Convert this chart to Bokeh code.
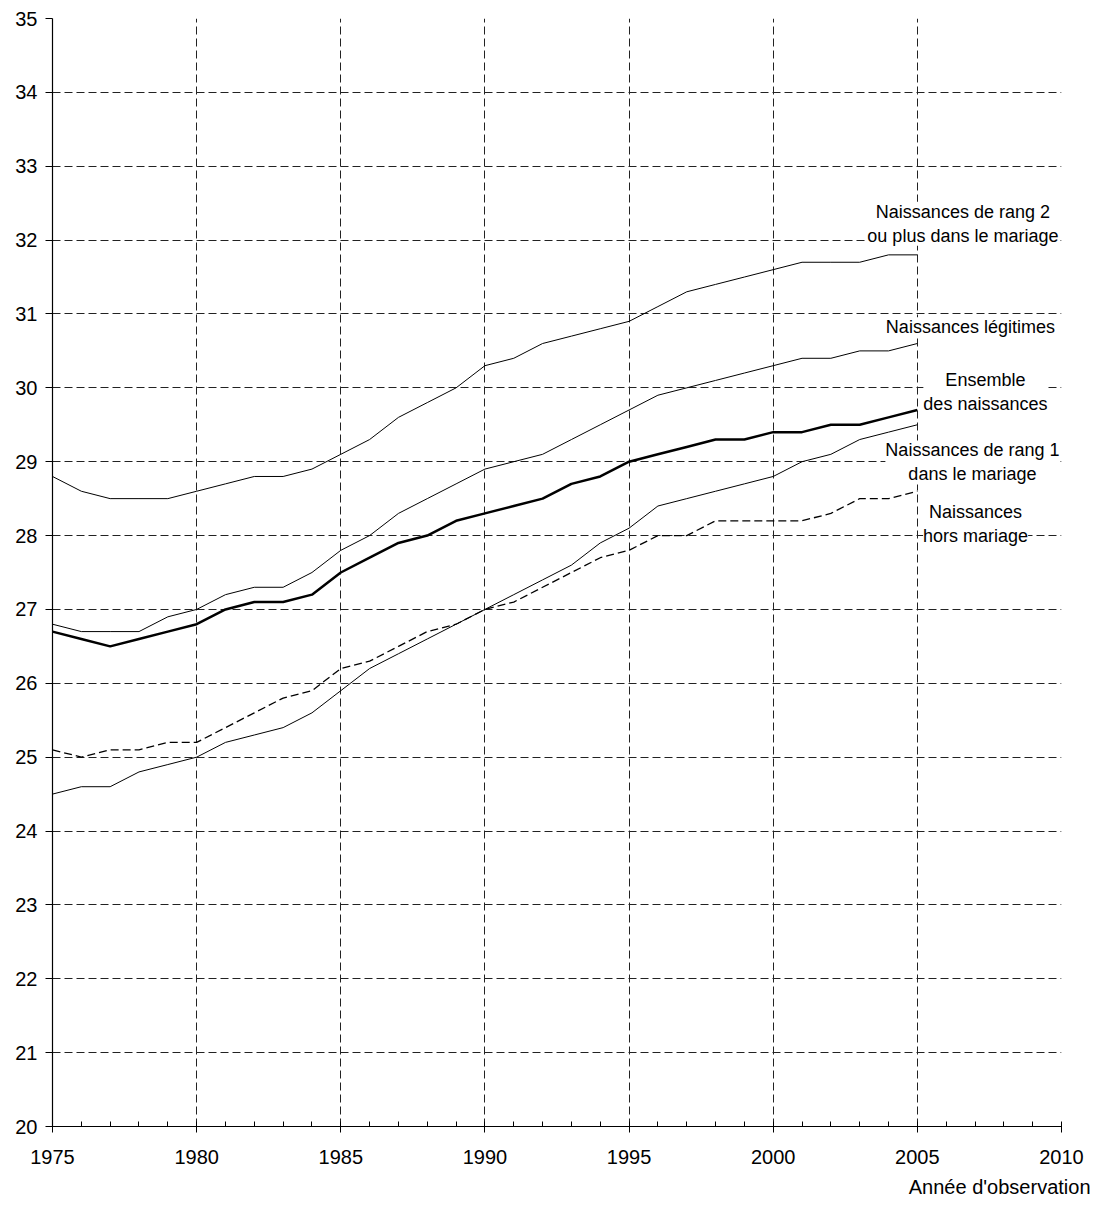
from bokeh.plotting import figure
from bokeh.models import Label, Range1d, FixedTicker, Title
from bokeh.embed import file_html
from bokeh.resources import INLINE

years = list(range(1975, 2006))

rang2_plus = [28.8, 28.6, 28.5, 28.5, 28.5, 28.6, 28.7, 28.8, 28.8, 28.9,
              29.1, 29.3, 29.6, 29.8, 30.0, 30.3, 30.4, 30.6, 30.7, 30.8,
              30.9, 31.1, 31.3, 31.4, 31.5, 31.6, 31.7, 31.7, 31.7, 31.8, 31.8]
legitimes = [26.8, 26.7, 26.7, 26.7, 26.9, 27.0, 27.2, 27.3, 27.3, 27.5,
             27.8, 28.0, 28.3, 28.5, 28.7, 28.9, 29.0, 29.1, 29.3, 29.5,
             29.7, 29.9, 30.0, 30.1, 30.2, 30.3, 30.4, 30.4, 30.5, 30.5, 30.6]
ensemble = [26.7, 26.6, 26.5, 26.6, 26.7, 26.8, 27.0, 27.1, 27.1, 27.2,
            27.5, 27.7, 27.9, 28.0, 28.2, 28.3, 28.4, 28.5, 28.7, 28.8,
            29.0, 29.1, 29.2, 29.3, 29.3, 29.4, 29.4, 29.5, 29.5, 29.6, 29.7]
rang1 = [24.5, 24.6, 24.6, 24.8, 24.9, 25.0, 25.2, 25.3, 25.4, 25.6,
         25.9, 26.2, 26.4, 26.6, 26.8, 27.0, 27.2, 27.4, 27.6, 27.9,
         28.1, 28.4, 28.5, 28.6, 28.7, 28.8, 29.0, 29.1, 29.3, 29.4, 29.5]
hors_mariage = [25.1, 25.0, 25.1, 25.1, 25.2, 25.2, 25.4, 25.6, 25.8, 25.9,
                26.2, 26.3, 26.5, 26.7, 26.8, 27.0, 27.1, 27.3, 27.5, 27.7,
                27.8, 28.0, 28.0, 28.2, 28.2, 28.2, 28.2, 28.3, 28.5, 28.5, 28.6]

x_ticks = [1975, 1980, 1985, 1990, 1995, 2000, 2005, 2010]
y_ticks = list(range(20, 36))

series_labels = [
    ("Naissances de rang 2\nou plus dans le mariage", 2006.58, 32.22),
    ("Naissances légitimes", 2006.84, 30.82),
    ("Ensemble\ndes naissances", 2007.36, 29.94),
    ("Naissances de rang 1\ndans le mariage", 2006.91, 28.99),
    ("Naissances\nhors mariage", 2007.02, 28.15),
]
x_title = "Année d'observation"

FONT = "Liberation Sans"

p = figure(width=1095, height=1205, output_backend="svg", toolbar_location=None,
           x_range=Range1d(1975, 2010), y_range=Range1d(20, 35),
           min_border_left=52, min_border_right=34, min_border_top=18,
           min_border_bottom=40)
p.outline_line_color = None
p.background_fill_color = "white"

# grid
for g in (p.xgrid, p.ygrid):
    g.grid_line_color = "#222222"
    g.grid_line_dash = "8 4"
    g.grid_line_width = 1
p.xgrid.ticker = FixedTicker(ticks=x_ticks)
p.ygrid.ticker = FixedTicker(ticks=y_ticks)

# axes
p.xaxis.ticker = FixedTicker(ticks=x_ticks, minor_ticks=list(range(1975, 2011)))
p.yaxis.ticker = FixedTicker(ticks=y_ticks)
for ax in (p.xaxis, p.yaxis):
    ax.axis_line_color = "black"
    ax.axis_line_width = 1.2
    ax.major_tick_line_color = "black"
    ax.major_label_text_font = FONT
    ax.major_label_text_font_size = "20px"
    ax.major_label_text_color = "black"
p.xaxis.major_tick_in = 4
p.xaxis.major_tick_out = 6
p.xaxis.minor_tick_in = 5
p.xaxis.minor_tick_out = 0
p.xaxis.minor_tick_line_color = "black"
p.xaxis.major_label_standoff = 17
p.yaxis.major_tick_in = 0
p.yaxis.major_tick_out = 7
p.yaxis.minor_tick_line_color = None
p.yaxis.major_label_standoff = 8

# lines
p.line(years, rang2_plus, line_color="black", line_width=1)
p.line(years, legitimes, line_color="black", line_width=1)
p.line(years, rang1, line_color="black", line_width=1)
p.line(years, hors_mariage, line_color="black", line_width=1.3, line_dash="8 4")
p.line(years, ensemble, line_color="black", line_width=2.5)

for txt, lx, ly in series_labels:
    p.add_layout(Label(x=lx, y=ly, text=txt, text_align="center",
                       text_baseline="middle", text_font=FONT,
                       text_font_size="18px", text_color="black",
                       text_line_height=1.2,
                       background_fill_color="white"))

p.add_layout(Title(text=x_title, align="right", text_font=FONT,
                   text_font_size="20px", text_font_style="normal",
                   text_color="black", offset=-29, standoff=15), "below")

open("out.html", "w").write(file_html(p, INLINE))
